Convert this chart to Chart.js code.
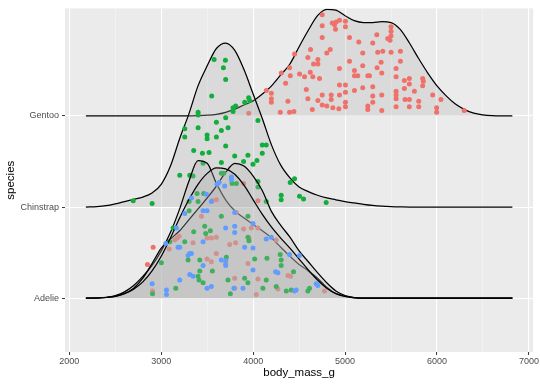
<!DOCTYPE html>
<html lang="en">
<head>
  <meta charset="UTF-8">
  <title>body_mass_g by species</title>
  <script src="https://cdn.jsdelivr.net/npm/chart.js"></script>
  <style>
    body { margin: 0; background: #fff; }
  </style>
</head>
<body>

<canvas id="ridgeChart" width="540" height="386"></canvas>

<script>
  const speciesNames = ['Adelie', 'Chinstrap', 'Gentoo'];
  const xTickValues = [2000, 2500, 3000, 3500, 4000, 4500, 5000, 5500, 6000, 6500, 7000];

  // density curve sample points (body mass, g)
  const massGrid = [2180, 2300, 2400, 2500, 2600, 2700, 2800, 2900, 3000, 3100,
    3200, 3300, 3400, 3500, 3600, 3700, 3800, 3900, 4000, 4100,
    4200, 4300, 4400, 4500, 4600, 4700, 4800, 4900, 5000, 5100,
    5200, 5300, 5400, 5500, 5600, 5700, 5800, 5900, 6000, 6100,
    6200, 6300, 6400, 6500, 6600, 6700, 6820];

  // ridge heights above each baseline
  const gentooHeight = [0, 0, 0, 0, 0, 0, 0, 0, 0, 0,
    0, 0, 0.003, 0.008, 0.018, 0.04, 0.075, 0.12, 0.165, 0.24,
    0.33, 0.45, 0.57, 0.76, 0.94, 1.10, 1.17, 1.16, 1.10, 1.045,
    1.025, 1.025, 1.035, 1.025, 0.95, 0.80, 0.63, 0.47, 0.33, 0.22,
    0.13, 0.07, 0.03, 0.012, 0.004, 0.001, 0];
  const chinstrapHeight = [0, 0.005, 0.015, 0.035, 0.06, 0.085, 0.11, 0.155, 0.25, 0.45,
    0.75, 1.02, 1.33, 1.55, 1.74, 1.80, 1.72, 1.51, 1.24, 0.97,
    0.68, 0.46, 0.32, 0.22, 0.17, 0.13, 0.10, 0.08, 0.06, 0.045,
    0.03, 0.018, 0.01, 0.005, 0.002, 0, 0, 0, 0, 0,
    0, 0, 0, 0, 0, 0, 0];
  const adelieBiscoeHeight = [0, 0.003, 0.01, 0.03, 0.07, 0.14, 0.24, 0.36, 0.52, 0.72,
    0.98, 1.28, 1.51, 1.48, 1.26, 1.08, 0.96, 0.88, 0.81, 0.74,
    0.66, 0.56, 0.46, 0.37, 0.30, 0.22, 0.12, 0.05, 0.02, 0.006,
    0.001, 0, 0, 0, 0, 0, 0, 0, 0, 0,
    0, 0, 0, 0, 0, 0, 0];
  const adelieDreamHeight = [0, 0.002, 0.008, 0.02, 0.05, 0.11, 0.22, 0.38, 0.55, 0.65,
    0.74, 0.86, 0.98, 1.10, 1.23, 1.38, 1.48, 1.45, 1.34, 1.18,
    0.95, 0.80, 0.67, 0.52, 0.40, 0.28, 0.17, 0.08, 0.03, 0.008,
    0.001, 0, 0, 0, 0, 0, 0, 0, 0, 0,
    0, 0, 0, 0, 0, 0, 0];
  const adelieTorgersenHeight = [0, 0.002, 0.008, 0.02, 0.05, 0.10, 0.18, 0.30, 0.46, 0.66,
    0.88, 1.08, 1.25, 1.37, 1.43, 1.42, 1.36, 1.24, 1.08, 0.92,
    0.78, 0.66, 0.55, 0.43, 0.31, 0.20, 0.11, 0.05, 0.02, 0.005,
    0, 0, 0, 0, 0, 0, 0, 0, 0, 0,
    0, 0, 0, 0, 0, 0, 0];

  // jittered points: mass and vertical position (species index + jitter)
  const gentooMass = [4751, 4860, 4885, 4903, 4939, 5004, 5004, 4751, 4896, 4751,
    5048, 5149, 5192, 4624, 4801, 4838, 4595, 4704, 4704, 4657,
    4451, 5048, 5102, 5192, 4939, 4396, 4505, 4559, 4621, 4649,
    4722, 4306, 4404, 4353, 5138, 5247, 5102, 4939, 5004, 5004,
    5102, 5192, 4578, 4751, 4849, 4849, 4595, 4704, 4939, 5004,
    4198, 4198, 4198, 4378, 4751, 4801, 4867, 4932, 5004, 5247,
    5247, 4643, 4295, 4396, 4443, 4143, 3951,
    5500, 5500, 5500, 5489, 5464, 5345, 5301, 5355, 5410, 5500,
    5602, 5392, 5602, 5348, 5555, 5399, 5555, 5265, 5645, 5699,
    5699, 5844, 5851, 5844, 5301, 5399, 5555, 5555, 5555, 5645,
    5754, 5953, 5652, 5699, 5801, 6043, 5301, 5301, 5399, 5555,
    5699, 5801, 5996, 5996, 6296];
  const gentooPos = [4.11, 4.02, 4.00, 4.03, 4.05, 4.04, 3.98, 3.99, 3.95, 3.86,
    3.86, 3.81, 3.69, 3.73, 3.69, 3.73, 3.64, 3.62, 3.57, 3.57,
    3.68, 3.60, 3.50, 3.55, 3.52, 3.53, 3.46, 3.43, 3.48, 3.43,
    3.41, 3.47, 3.44, 3.36, 3.44, 3.44, 3.44, 3.34, 3.34, 3.26,
    3.28, 3.31, 3.29, 3.23, 3.23, 3.18, 3.19, 3.17, 3.23, 3.15,
    3.25, 3.19, 3.15, 3.16, 3.12, 3.11, 3.09, 3.08, 3.10, 3.11,
    3.07, 3.07, 3.04, 3.04, 3.05, 3.28, 3.03,
    3.98, 3.93, 3.88, 3.83, 3.85, 3.89, 3.80, 3.70, 3.71, 3.70,
    3.71, 3.59, 3.60, 3.53, 3.52, 3.47, 3.43, 3.44, 3.39, 3.41,
    3.35, 3.41, 3.38, 3.33, 3.32, 3.23, 3.27, 3.23, 3.19, 3.30,
    3.27, 3.23, 3.18, 3.18, 3.16, 3.18, 3.22, 3.15, 3.06, 3.10,
    3.10, 3.10, 3.09, 3.04, 3.06];

  const chinstrapMass = [3575, 3698, 3676, 3701, 3549, 3401, 3401, 3781, 3810, 3908,
    3951, 3962, 3781, 3701, 3600, 3654, 3727, 3401, 4052, 3256,
    3256, 3499, 3499, 3600,
    3701, 3353, 3448, 3520, 3799, 3943, 3896, 4041, 4099, 4099,
    4142, 3998, 3654, 3455, 3201, 3310, 3346, 4052, 4052, 4403,
    4450, 4305, 4305, 4504, 4548, 4794, 4142, 2695, 2901];
  const chinstrapPos = [3.62, 3.61, 3.53, 3.40, 3.22, 3.04, 3.01, 3.09, 3.11, 3.15,
    3.20, 3.17, 3.05, 2.98, 2.93, 2.84, 2.87, 2.87, 2.95, 2.86,
    2.77, 2.79, 2.75, 2.77,
    2.67, 2.62, 2.59, 2.60, 2.56, 2.57, 2.50, 2.51, 2.59, 2.68,
    2.68, 2.47, 2.49, 2.48, 2.35, 2.35, 2.34, 2.28, 2.22, 2.27,
    2.31, 2.13, 2.08, 2.12, 2.09, 2.05, 2.06, 2.07, 2.04];

  const adelieBiscoeMass = [3556, 3600, 3896, 4052, 3437, 3817, 3896, 3980, 4052, 3194,
    3172, 3147, 2912, 3086, 3346, 3498, 3545, 3599, 3744, 3809,
    3954, 4251, 2850, 3599, 3545, 3498, 3701, 3943, 3799, 3799,
    4052, 2905, 4034, 4378, 4407, 4269, 4776];
  const adelieBiscoePos = [2.07, 2.08, 2.26, 2.07, 1.90, 1.94, 1.76, 1.77, 1.77, 1.68,
    1.66, 1.64, 1.56, 1.54, 1.61, 1.66, 1.66, 1.67, 1.59, 1.61,
    1.66, 1.64, 1.37, 1.49, 1.40, 1.43, 1.38, 1.38, 1.22, 1.11,
    1.21, 1.08, 1.04, 1.25, 1.24, 1.10, 1.08];

  const adelieDreamMass = [3654, 3679, 3770, 3817, 3390, 3462, 3303, 3401,
    3303, 3654, 3943, 3473, 3353, 3129, 3093, 3002, 3256, 3484,
    3534, 3943, 3954, 3708, 4016, 4150, 4294, 4305, 4305, 4439,
    3419, 3419, 3292, 3411, 3455, 3400, 3556, 3726, 3907, 3943,
    4142, 4251, 4106, 4360, 4613, 4595, 4414, 3158, 2905, 3752];
  const adelieDreamPos = [2.37, 2.37, 2.26, 2.26, 2.15, 2.15, 2.06, 2.06,
    1.96, 1.90, 1.90, 1.79, 1.73, 1.77, 1.62, 1.39, 1.62, 1.71,
    1.74, 1.67, 1.63, 1.45, 1.43, 1.44, 1.48, 1.42, 1.36, 1.29,
    1.30, 1.42, 1.42, 1.20, 1.17, 1.24, 1.30, 1.20, 1.22, 1.17,
    1.20, 1.13, 1.11, 1.08, 1.11, 1.08, 1.09, 1.11, 1.05, 1.05];

  const adelieTorgersenMass = [3328, 3491, 3545, 3607, 3629, 3690, 3763, 3763,
    3256, 3455, 3498, 3799, 3165, 3799, 3799, 3701, 3998, 3049,
    3183, 3201, 3455, 3310, 3328, 3292, 3907, 3998, 3654, 3701,
    3701, 3998, 4142, 4197, 4244, 4269, 4396, 4504, 3310, 3346,
    3201, 3455, 3545, 3498, 3791, 3889, 2901, 3057, 3057, 4685,
    4703, 4450, 4468];
  const adelieTorgersenPos = [2.10, 2.14, 2.06, 2.25, 2.27, 2.23, 2.33, 2.30,
    1.93, 1.96, 1.96, 1.94, 1.77, 1.79, 1.72, 1.77, 1.82, 1.60,
    1.56, 1.56, 1.62, 1.49, 1.49, 1.47, 1.56, 1.55, 1.42, 1.41,
    1.36, 1.31, 1.65, 1.67, 1.29, 1.28, 1.48, 1.47, 1.26, 1.24,
    1.20, 1.36, 1.13, 1.11, 1.11, 1.11, 1.16, 1.09, 1.04, 1.16,
    1.14, 1.08, 1.09];

  const islandColors = { Biscoe: '#F0706A', Dream: '#12AE3C', Torgersen: '#619CFF' };
  const ridgeFill = 'rgba(179,179,179,0.3)';

  function ridge(heights, base, order) {
    return {
      data: massGrid.map((m, i) => ({ x: m, y: base + heights[i] })),
      borderColor: '#000',
      borderWidth: 1.25,
      backgroundColor: ridgeFill,
      fill: { value: base },
      pointRadius: 0,
      cubicInterpolationMode: 'monotone',
      order: order
    };
  }

  function points(mass, pos, color, order) {
    return {
      data: mass.map((m, i) => ({ x: m, y: pos[i] })),
      showLine: false,
      pointRadius: 2.5,
      pointBorderWidth: 0,
      pointBackgroundColor: color,
      backgroundColor: color,
      order: order
    };
  }

  // drawn top ridge first so lower ridges sit in front
  const datasets = [
    ridge(gentooHeight, 3, 10),
    points(gentooMass, gentooPos, islandColors.Biscoe, 9),
    ridge(chinstrapHeight, 2, 8),
    points(chinstrapMass, chinstrapPos, islandColors.Dream, 7),
    ridge(adelieBiscoeHeight, 1, 6),
    points(adelieBiscoeMass, adelieBiscoePos, islandColors.Biscoe, 5),
    ridge(adelieDreamHeight, 1, 4),
    points(adelieDreamMass, adelieDreamPos, islandColors.Dream, 3),
    ridge(adelieTorgersenHeight, 1, 2),
    points(adelieTorgersenMass, adelieTorgersenPos, islandColors.Torgersen, 1)
  ];

  const panelBg = {
    id: 'panelBg',
    beforeDraw(chart) {
      const { ctx, chartArea: a } = chart;
      ctx.save();
      ctx.fillStyle = '#EBEBEB';
      ctx.fillRect(a.left, a.top, a.width, a.height);
      ctx.restore();
    }
  };

  const isMajor = v => v % 1000 === 0;
  const fontFamily = '"Liberation Sans", Arial, Helvetica, sans-serif';

  new Chart(document.getElementById('ridgeChart'), {
    type: 'line',
    data: { datasets: datasets },
    plugins: [panelBg],
    options: {
      responsive: false,
      animation: false,
      layout: { padding: { top: 6, right: 6, left: 0, bottom: 0 } },
      plugins: {
        legend: { display: false },
        tooltip: { enabled: false }
      },
      scales: {
        x: {
          type: 'linear',
          min: 1953,
          max: 7046,
          afterBuildTicks: axis => { axis.ticks = xTickValues.map(v => ({ value: v })); },
          afterFit: axis => { axis.height = 34; },
          border: { display: false },
          grid: {
            color: ctx => isMajor(ctx.tick.value) ? '#ffffff' : '#f7f7f7',
            lineWidth: ctx => isMajor(ctx.tick.value) ? 1.1 : 0.6,
            tickColor: ctx => isMajor(ctx.tick.value) ? '#333333' : 'rgba(0,0,0,0)',
            tickLength: 3,
            tickWidth: 1
          },
          ticks: {
            autoSkip: false,
            maxRotation: 0,
            padding: 1,
            color: '#4d4d4d',
            font: { family: fontFamily, size: 9 },
            callback: v => isMajor(v) ? String(v) : ''
          },
          title: {
            display: true,
            text: 'body_mass_g',
            color: '#000',
            font: { family: fontFamily, size: 11.5 },
            padding: { top: 0, bottom: 6 }
          }
        },
        y: {
          type: 'linear',
          min: 0.41,
          max: 4.18,
          afterBuildTicks: axis => { axis.ticks = [1, 2, 3].map(v => ({ value: v })); },
          afterFit: axis => { axis.width = 65; },
          border: { display: false },
          grid: {
            color: '#ffffff',
            lineWidth: 1.1,
            tickColor: '#333333',
            tickLength: 3,
            tickWidth: 1
          },
          ticks: {
            padding: 3,
            color: '#4d4d4d',
            font: { family: fontFamily, size: 9 },
            callback: v => speciesNames[v - 1]
          },
          title: {
            display: true,
            text: 'species',
            color: '#000',
            font: { family: fontFamily, size: 11.5 },
            padding: { top: 4, bottom: 0 }
          }
        }
      }
    }
  });
</script>

</body>
</html>
